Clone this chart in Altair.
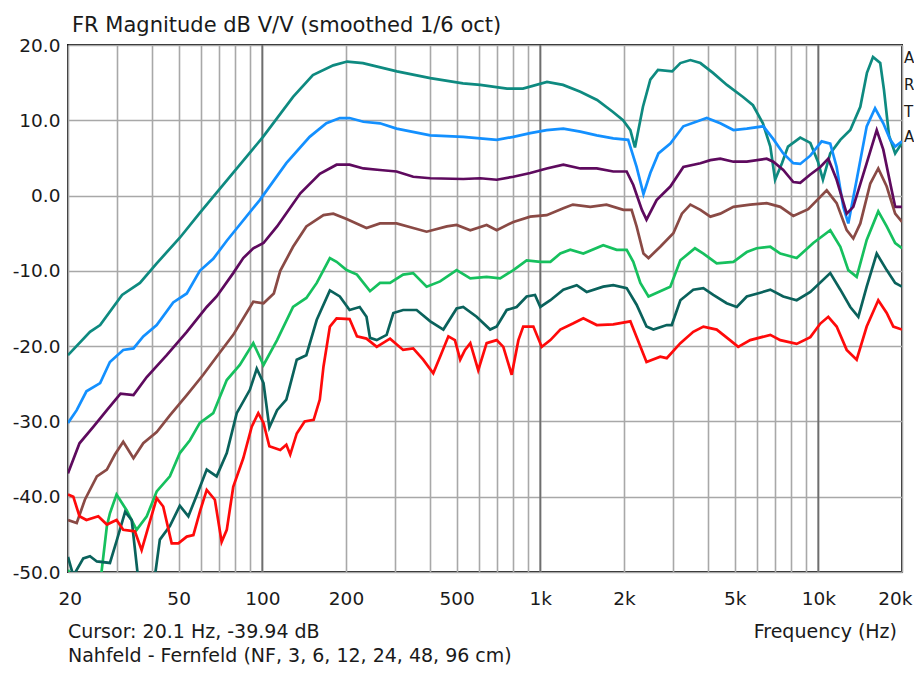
import altair as alt
import pandas as pd

# ---------------- data ----------------
SERIES = ["NF", "3 cm", "6 cm", "12 cm", "24 cm", "48 cm", "96 cm"]
COLORS = ["#0e8a80", "#1390ff", "#5e0a5e", "#8a4a45", "#16c05e", "#0a625c", "#ff0a0a"]

F_NF = [20, 24.0, 26.1, 31.3, 36.3, 41.7, 50.5, 59.6, 78.5, 100.6,
        129, 152, 180, 202, 230, 305, 402, 527, 608, 759,
        866, 1057, 1207, 1393, 1600, 1826, 1984, 2108, 2190, 2340,
        2487, 2650, 2980, 3190, 3465, 3765, 4180, 4690, 5360, 5820,
        6320, 6720, 6990, 7400, 7780, 8610, 9360, 9970, 10390, 11040,
        12000, 13030, 14160, 14960, 15730, 16700, 17230, 17960, 18900, 20000]
DB_NF = [-21.2, -18.1, -17.2, -13.2, -11.6, -9.0, -5.6, -2.3, 3.0, 7.8,
         13.1, 16.0, 17.3, 17.8, 17.6, 16.5, 15.6, 14.9, 14.7, 14.2,
         14.2, 15.1, 14.7, 13.8, 12.7, 11.1, 10.0, 8.7, 6.4, 11.8,
         15.4, 16.7, 16.5, 17.6, 18.0, 17.6, 16.3, 14.7, 13.1, 12.0,
         9.6, 6.5, 2.1, 4.3, 6.5, 7.7, 7.0, 4.5, 2.1, 5.6,
         7.4, 8.7, 11.8, 16.3, 18.4, 17.6, 14.0, 8.0, 5.6, 7.0]

F_3 = [20, 21.5, 23.3, 26.1, 28.3, 31.6, 34.4, 37.3, 41.7, 47.8,
       53.5, 59.6, 66.6, 74.5, 97.9, 122, 148, 170, 190, 206,
       231, 265, 304, 402, 528, 697, 800, 920, 1054, 1210,
       1393, 1596, 1830, 2070, 2220, 2350, 2487, 2660, 2935, 3270,
       3765, 3970, 4440, 4950, 5530, 6340, 6890, 7480, 8130, 8610,
       9360, 10280, 11040, 11640, 12300, 12820, 13740, 14930, 16000, 17130,
       18150, 18900, 20000]
DB_3 = [-30.2, -28.5, -26.0, -24.9, -22.1, -20.5, -20.3, -18.7, -17.2, -14.2,
        -13.0, -10.0, -8.4, -6.0, -0.6, 4.3, 7.8, 9.6, 10.3, 10.3,
        9.8, 9.6, 8.9, 8.0, 7.8, 7.4, 7.8, 8.3, 8.7, 8.9,
        8.5, 8.0, 7.6, 7.4, 3.8, 0.2, 3.0, 5.6, 6.9, 9.2,
        10.0, 10.3, 9.6, 8.7, 8.9, 9.2, 7.5, 5.6, 4.3, 4.2,
        5.3, 7.2, 6.9, 3.8, -1.5, -3.7, 2.1, 9.2, 11.6, 9.6,
        7.4, 6.5, 7.2]

F_6 = [20, 22.0, 24.7, 27.6, 30.9, 34.4, 38.4, 45.3, 53.5, 63.1,
       68.5, 78.6, 85.4, 92.8, 101, 113, 137, 161, 185, 206,
       231, 265, 304, 349, 402, 528, 608, 697, 800, 920,
       1054, 1210, 1393, 1596, 1830, 2045, 2160, 2320, 2410, 2620,
       2935, 3270, 3765, 4090, 4440, 4950, 5530, 6520, 6890, 7480,
       8130, 8610, 9360, 10170, 10860, 11640, 12650, 13360, 14930, 16220,
       17130, 18150, 18900, 20000]
DB_6 = [-36.9, -32.9, -30.7, -28.5, -26.3, -26.5, -24.1, -21.2, -18.1, -14.8,
        -13.4, -10.3, -8.3, -7.0, -6.3, -4.1, 0.3, 2.9, 4.1, 4.1,
        3.6, 3.4, 3.2, 2.5, 2.3, 2.2, 2.3, 2.1, 2.5, 3.0,
        3.6, 4.1, 3.6, 3.6, 3.2, 3.2, 1.4, -1.9, -3.2, -0.6,
        1.2, 3.8, 4.3, 4.7, 4.9, 4.5, 4.5, 4.9, 4.5, 3.4,
        1.8, 1.7, 2.8, 3.8, 4.9, 2.1, -2.4, -1.5, 4.3, 8.7,
        6.1, 1.6, -1.5, -1.5]

F_12 = [20, 21.5, 23.0, 25.4, 27.6, 29.5, 31.6, 34.4, 37.3, 41.7,
        46.5, 53.5, 61.3, 68.5, 78.6, 92.8, 101, 110, 116, 129,
        144, 166, 180, 201, 237, 265, 304, 349, 390, 461,
        500, 560, 641, 697, 800, 920, 1054, 1210, 1310, 1513,
        1730, 1990, 2130, 2220, 2350, 2450, 2700, 3010, 3230, 3465,
        3765, 4090, 4440, 4950, 5690, 6520, 7300, 8130, 9200, 10720,
        11640, 12650, 13360, 14160, 15380, 16430, 17620, 18900, 20000]
DB_12 = [-43.1, -43.5, -40.4, -37.3, -36.4, -34.4, -32.7, -34.9, -32.9, -31.4,
         -29.2, -26.5, -23.8, -21.4, -18.5, -14.1, -14.3, -13.0, -10.0, -6.8,
         -4.1, -2.6, -2.4, -3.1, -4.3, -3.7, -3.7, -4.3, -4.8, -4.1,
         -3.9, -4.6, -3.9, -4.6, -3.5, -2.8, -2.6, -1.7, -1.2, -1.5,
         -1.2, -1.9, -1.9, -4.1, -7.7, -8.3, -6.8, -5.0, -2.4, -1.2,
         -1.9, -2.8, -2.4, -1.5, -1.2, -1.0, -1.5, -2.7, -1.8, 0.7,
         -1.0, -4.6, -5.7, -3.7, 1.6, 3.6, 1.2, -2.4, -3.5]

F_24 = [20, 21.2, 23.0, 25.0, 26.4, 27.6, 28.3, 29.9, 32.5, 35.3,
        38.4, 41.7, 46.5, 50.5, 54.9, 59.6, 66.6, 74.5, 83.0, 92.8,
        101, 113, 129, 144, 157, 175, 185, 201, 219, 244,
        265, 288, 321, 349, 390, 436, 500, 560, 641, 717,
        800, 893, 1000, 1087, 1180, 1282, 1428, 1684, 1882, 2045,
        2160, 2290, 2450, 2700, 2935, 3190, 3600, 3860, 4310, 4950,
        5530, 6000, 6720, 7300, 8360, 9590, 11040, 12000, 12820, 13740,
        14930, 16430, 17620, 18900, 20000]
DB_24 = [-49.7, -52.0, -54.0, -53.0, -50.0, -43.9, -42.2, -39.7, -41.8, -44.4,
         -42.6, -39.3, -37.3, -34.2, -32.5, -30.2, -28.9, -24.5, -22.5, -19.6,
         -22.5, -19.2, -14.8, -13.6, -11.6, -8.3, -8.8, -9.9, -10.5, -12.7,
         -11.6, -11.6, -10.5, -10.3, -12.1, -11.4, -9.9, -11.0, -10.8, -11.0,
         -9.9, -8.6, -8.8, -8.8, -7.7, -7.2, -7.7, -6.6, -7.2, -7.2,
         -8.8, -11.6, -13.4, -12.7, -12.1, -8.6, -7.0, -7.7, -9.0, -8.8,
         -7.5, -7.0, -6.8, -7.7, -8.3, -6.3, -4.6, -6.8, -9.9, -10.8,
         -5.9, -2.1, -4.1, -6.3, -7.0]

F_48 = [20, 20.9, 22.7, 24.0, 25.4, 28.3, 29.9, 32.1, 33.9, 35.8,
        37.8, 39.4, 41.1, 42.8, 46.5, 50.5, 54.2, 58.1, 63.1, 68.5,
        74.5, 80.9, 90.2, 95.5, 101, 106, 113, 122, 133, 144,
        157, 175, 190, 206, 224, 237, 244, 258, 280, 296,
        321, 359, 402, 448, 500, 528, 590, 660, 697, 757,
        822, 893, 957, 1000, 1087, 1210, 1352, 1468, 1684, 1830,
        2045, 2220, 2410, 2550, 2850, 2970, 3190, 3550, 3860, 4190,
        4680, 5090, 5530, 6185, 6720, 7480, 8360, 9360, 11040, 12000,
        13030, 13930, 14930, 16220, 17620, 18900, 20000]
DB_48 = [-48.0, -50.5, -48.2, -47.9, -48.6, -48.8, -45.9, -42.0, -43.1, -51.0,
         -54.0, -53.0, -50.5, -45.7, -43.9, -41.2, -42.6, -39.8, -36.4, -37.3,
         -34.2, -28.9, -25.8, -23.0, -24.9, -30.8, -28.5, -27.1, -21.8, -21.2,
         -16.5, -12.6, -13.4, -15.2, -14.8, -16.1, -18.9, -19.2, -18.5, -15.6,
         -15.2, -15.2, -16.7, -17.8, -15.0, -14.8, -16.1, -17.8, -17.4, -15.2,
         -14.8, -13.4, -13.2, -14.8, -13.9, -12.5, -11.9, -12.8, -12.1, -11.9,
         -12.3, -14.5, -17.4, -17.8, -17.2, -17.2, -13.9, -12.5, -12.3, -13.2,
         -14.3, -14.8, -13.4, -12.9, -12.5, -13.4, -13.9, -12.8, -10.3, -12.5,
         -14.8, -16.1, -12.1, -7.7, -9.9, -11.6, -12.1]

F_96 = [20, 20.9, 22.0, 23.3, 25.7, 27.6, 29.9, 31.6, 34.8, 36.8,
        38.9, 41.7, 44.0, 47.2, 49.9, 53.5, 56.5, 59.6, 63.1, 67.5,
        71.4, 74.5, 78.6, 85.4, 91.6, 96.7, 101, 106, 116, 122,
        126, 133, 142, 153, 161, 166, 175, 185, 206, 219,
        237, 258, 288, 321, 349, 379, 412, 436, 467, 493,
        515, 536, 560, 598, 641, 697, 736, 789, 834, 868,
        944, 1012, 1087, 1180, 1310, 1428, 1596, 1830, 2108, 2220,
        2410, 2700, 2850, 3190, 3550, 3860, 4310, 4810, 5150, 5690,
        6720, 7300, 8360, 9360, 10170, 10860, 11640, 12650, 13740, 14930,
        16430, 17620, 18610, 20000]
DB_96 = [-39.7, -40.0, -42.6, -43.1, -42.6, -43.7, -43.1, -44.4, -44.6, -47.1,
         -44.0, -40.2, -41.3, -46.2, -46.2, -45.3, -45.1, -42.0, -39.1, -40.4,
         -46.0, -44.4, -38.7, -34.9, -30.7, -28.9, -30.2, -33.3, -33.8, -33.1,
         -34.4, -31.6, -30.0, -29.8, -27.1, -22.7, -17.4, -16.3, -16.4, -18.7,
         -19.0, -20.1, -19.0, -20.5, -20.3, -21.8, -23.6, -21.4, -18.7, -19.2,
         -21.8, -20.5, -19.6, -23.2, -19.6, -19.2, -20.1, -23.8, -19.2, -17.4,
         -17.4, -20.1, -19.2, -17.8, -17.0, -16.3, -17.2, -17.1, -16.7, -18.8,
         -22.1, -21.4, -21.6, -19.6, -18.1, -17.4, -17.8, -19.2, -20.1, -19.2,
         -18.5, -19.2, -19.7, -18.8, -17.0, -16.1, -17.4, -20.5, -21.8, -17.4,
         -13.9, -15.6, -17.4, -17.8]

FREQS = [F_NF, F_3, F_6, F_12, F_24, F_48, F_96]
DBS = [DB_NF, DB_3, DB_6, DB_12, DB_24, DB_48, DB_96]

GRID_F = [20, 30, 40, 50, 60, 70, 80, 90,
          100, 200, 300, 400, 500, 600, 700, 800, 900,
          1000, 2000, 3000, 4000, 5000, 6000, 7000, 8000, 9000,
          10000, 20000]
DECADES = [100, 1000, 10000]
Y_TICKS = [-50, -40, -30, -20, -10, 0, 10, 20]

TITLE = "FR Magnitude dB V/V (smoothed 1/6 oct)"
CURSOR = "Cursor: 20.1 Hz, -39.94 dB"
XTITLE = "Frequency (Hz)"
SUBTITLE = "Nahfeld - Fernfeld (NF, 3, 6, 12, 24, 48, 96 cm)"
WATERMARK = ["A", "R", "T", "A"]

# ---------------- build table ----------------
rows = []
for i, (name, fs, ds) in enumerate(zip(SERIES, FREQS, DBS)):
    assert len(fs) == len(ds), name
    for j, (f, d) in enumerate(zip(fs, ds)):
        rows.append({"series": name, "k": i, "idx": j, "f": f, "db": d})
df = pd.DataFrame(rows)

FONT = "DejaVu Sans"
W, H = 834, 527

xscale = alt.Scale(type="log", domain=[20, 20000], nice=False)
yscale = alt.Scale(domain=[-50, 20], nice=False, zero=False)

x_label_expr = (
    "indexof([20,50,100,200,500],datum.value)>=0 ? ''+datum.value : "
    "(indexof([1000,2000,5000,10000,20000],datum.value)>=0 ? (datum.value/1000)+'k' : '')"
)
xaxis = alt.Axis(values=GRID_F, labelExpr=x_label_expr, title=None, labelPadding=17,
                 labelFlush=True, labelFlushOffset=10, labelOverlap=False,
                 ticks=False, tickSize=0, domain=False,
                 grid=True, gridColor="#a8a8a8", gridWidth=1.6,
                 labelFont=FONT, labelFontSize=18.5, labelColor="#1a1a1a")
y_label_expr = "datum.value < 0 ? '-' + format(-datum.value, '.1f') : format(datum.value, '.1f')"
yaxis = alt.Axis(values=Y_TICKS, labelExpr=y_label_expr, title=None, labelPadding=8,
                 labelFlush=False, labelOverlap=False, ticks=False, tickSize=0, domain=False,
                 grid=True, gridColor="#a8a8a8", gridWidth=1.6,
                 labelFont=FONT, labelFontSize=18.5, labelColor="#1a1a1a")

decade_rules = alt.Chart(pd.DataFrame({"f": DECADES})).mark_rule(
    color="#6e6e6e", strokeWidth=1.8
).encode(x=alt.X("f:Q", scale=xscale, axis=xaxis))

layers = [decade_rules]
for i, name in enumerate(SERIES):
    sub = df[df.series == name]
    layers.append(
        alt.Chart(sub).mark_line(strokeWidth=2.7, clip=True, color=COLORS[i]).encode(
            x=alt.X("f:Q", scale=xscale, axis=xaxis),
            y=alt.Y("db:Q", scale=yscale, axis=yaxis),
            order="idx:Q",
        )
    )


def label(text, x, y, size=19, align="left", baseline="middle"):
    return alt.Chart(pd.DataFrame({"t": [text]})).mark_text(
        font=FONT, fontSize=size, color="#1a1a1a", align=align, baseline=baseline
    ).encode(text="t:N", x=alt.value(x), y=alt.value(y))


layers.append(label(TITLE, 4, -13.5, size=21, baseline="alphabetic"))
layers.append(label(CURSOR, 0, 587))
layers.append(label(XTITLE, 829, 587, align="right"))
layers.append(label(SUBTITLE, 0, 611))
for k, (ch, yy) in enumerate(zip(WATERMARK, [13, 40, 67, 92])):
    layers.append(label(ch, 836, yy, size=15))

chart = alt.layer(*layers).properties(
    width=W, height=H,
    autosize=alt.AutoSizeParams(type="none"),
    padding={"left": 60, "top": 37, "right": 12, "bottom": 94},
    background="white",
).configure_view(stroke="#1a1a1a", strokeWidth=2)

chart.save("out.html", embed_options={"renderer": "svg", "actions": False})
